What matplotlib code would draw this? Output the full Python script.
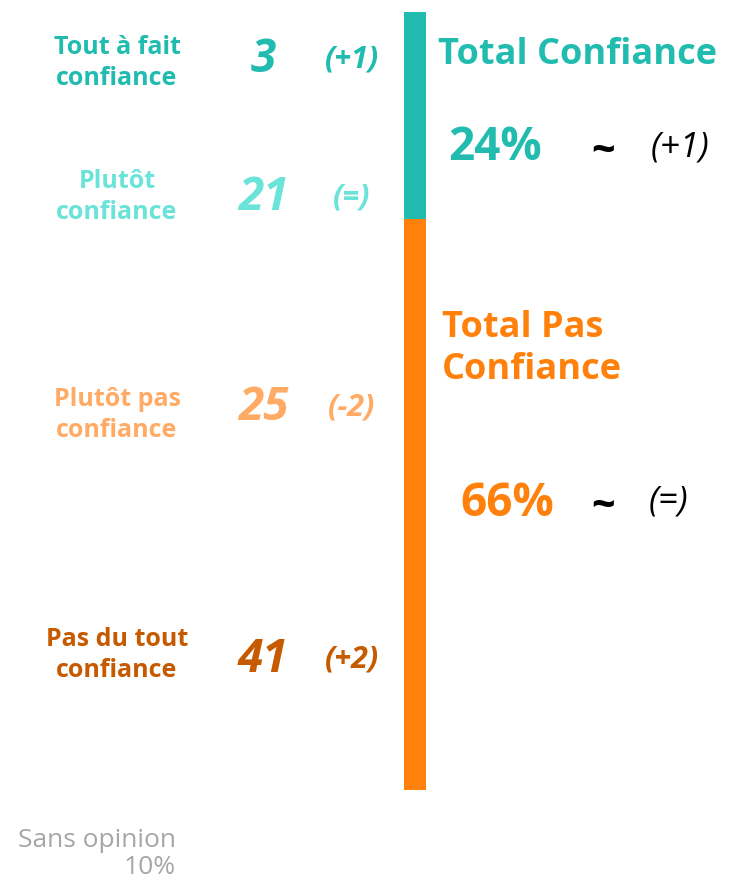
import matplotlib.pyplot as plt

# data
categories = ["Tout à fait\nconfiance", "Plutôt\nconfiance", "Plutôt pas\nconfiance", "Pas du tout\nconfiance"]
values = [3, 21, 25, 41]
changes = ["(+1)", "(=)", "(-2)", "(+2)"]
total_labels = ["Total Confiance", "Total Pas\nConfiance"]
totals = [24, 66]
total_changes = ["(+1)", "(=)"]
sans_opinion = 10

# colours
teal = "#21BCAF"
cat_colors = ["#21BCAF", "#6AE3D9", "#FFAB66", "#C55A00"]
orange = "#FF800A"

W, H = 731, 882
fig = plt.figure(figsize=(W / 100, H / 100), dpi=100)
plt.rcParams['font.family'] = ['Open Sans', 'DejaVu Sans']

# stacked bar (pas confiance at bottom, confiance on top)
axb = fig.add_axes([404 / W, 1 - 790 / H, 22 / W, 778 / H])
axb.bar(0, totals[1], width=1, color=orange)
axb.bar(0, totals[0], bottom=totals[1], width=1, color=teal)
axb.set_xlim(-0.5, 0.5)
axb.set_ylim(0, sum(totals))
axb.axis("off")

# text layer in pixel coordinates
ax = fig.add_axes([0, 0, 1, 1])
ax.set_xlim(0, W)
ax.set_ylim(H, 0)
ax.axis("off")

label_y = [63, 197, 415, 655]
num_y = [60, 197, 407, 660]
for i in range(len(categories)):
    c = cat_colors[i]
    ax.text(117, label_y[i], categories[i], color=c, fontsize=18, fontweight="bold",
            ha="center", va="center", linespacing=1.35)
    ax.text(263, num_y[i], str(values[i]), color=c, fontsize=33, fontweight="bold",
            style="italic", ha="center", va="center")
    ax.text(352, num_y[i], changes[i], color=c, fontsize=22, fontweight="bold",
            style="italic", ha="center", va="center")

# totals
ax.text(438, 55, total_labels[0], color=teal, fontsize=26, fontweight="bold",
        ha="left", va="center")
ax.text(495, 148, f"{totals[0]}%", color=teal, fontsize=33, fontweight="bold",
        ha="center", va="center")
ax.text(603, 152, "~", color="black", fontsize=30, fontweight="bold", ha="center", va="center")
ax.text(680, 148, total_changes[0], color="black", fontsize=25, style="italic",
        ha="center", va="center")

ax.text(442, 349, total_labels[1], color=orange, fontsize=26, fontweight="bold",
        ha="left", va="center", linespacing=1.22)
ax.text(507, 504, f"{totals[1]}%", color=orange, fontsize=33, fontweight="bold",
        ha="center", va="center")
ax.text(603, 507, "~", color="black", fontsize=30, fontweight="bold", ha="center", va="center")
ax.text(668, 502, total_changes[1], color="black", fontsize=25, style="italic",
        ha="center", va="center")

# sans opinion
ax.text(176, 854, f"Sans opinion\n{sans_opinion}%", color="#A6A6A6", fontsize=19,
        ha="right", va="center", linespacing=1.15)

fig.savefig("out.png", dpi=100)
